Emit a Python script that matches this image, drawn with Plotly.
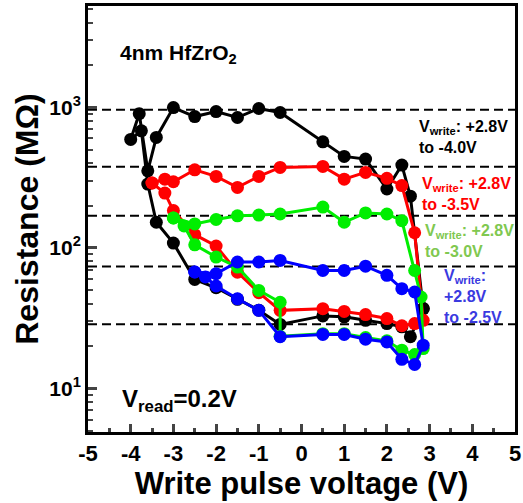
import plotly.graph_objects as go

# ---------------- data ----------------
black_v = [2.85, 2.55, 2.35, 2.0, 1.5, 1.0, 0.5, -0.5, -1.0, -1.5, -2.0, -2.5, -3.0, -3.4, -3.6, -3.75, -4.0,
           -3.8, -3.6, -3.4, -3.0, -2.5, -2.0, -1.5, -1.0, -0.5, 0.5, 1.0, 1.5, 2.0, 2.35, 2.55, 2.85]
black_r = [37, 23.3, 27.4, 28.9, 30.5, 32.3, 32.8, 28.5, 36, 43, 52, 59.6, 108, 152, 284, 680, 590,
           900, 353, 610, 995, 858, 931, 845, 979, 917, 567, 447, 428, 262, 388, 233, 37]

red_v = [-3.5, -3.2, -3.0, -2.5, -2.0, -1.5, -1.0, -0.5, 0.5, 1.0, 1.5, 2.0, 2.35, 2.65, 2.85,
         2.65, 2.35, 2.0, 1.5, 1.0, 0.5, -0.5, -1.0, -1.5, -2.0, -2.5, -3.0, -3.2, -3.5]
red_r = [289, 308, 295, 359, 322, 269, 322, 373, 379, 308, 344, 312, 277, 128, 30.5,
         28.9, 27.9, 31.4, 33.5, 35.3, 36.9, 35.9, 48, 67, 103, 124, 184, 245, 289]

green_v = [-3.0, -2.5, -2.0, -1.5, -1.0, -0.5, 0.5, 1.0, 1.5, 2.0, 2.35, 2.65, 2.8, 2.85,
           2.65, 2.35, 2.0, 1.5, 1.0, 0.5, -0.5, -0.5, -1.0, -1.5, -2.0, -2.5, -2.75, -3.0]
green_r = [163, 148, 159, 169, 171, 174, 195, 152, 177, 174, 156, 69, 44.7, 19.2,
           17.4, 18.7, 21.8, 23, 24.5, 24.5, 23.5, 41, 49.8, 73, 86, 105, 143, 163]

blue_v = [-2.5, -2.0, -1.5, -1.0, -0.5, 0.5, 1.0, 1.5, 2.0, 2.35, 2.65, 2.85,
          2.65, 2.35, 2.0, 1.5, 1.0, 0.5, -0.5, -1.0, -1.5, -2.0, -2.25, -2.5]
blue_r = [67.3, 65.5, 79.3, 79.3, 81.3, 69, 69, 74, 63.7, 51.2, 48.5, 20.3,
          14.8, 16.1, 21.4, 22.4, 24.2, 24.2, 23.3, 35.9, 43.4, 53.5, 62, 67.3]

ref_levels = [960, 378, 169, 73.6, 28.6]

x_ticks = [-5, -4, -3, -2, -1, 0, 1, 2, 3, 4, 5]
x_ticktext = ["<b>%d</b>" % v for v in x_ticks]
y_ticks = [10, 100, 1000]
y_ticktext = ["<b>10<sup>1</sup></b>", "<b>10<sup>2</sup></b>", "<b>10<sup>3</sup></b>"]

FONT = "Liberation Sans, Arial, sans-serif"

fig = go.Figure()
series = [
    (black_v, black_r, "black"),
    (red_v, red_r, "#ff0000"),
    (green_v, green_r, "#00ee00"),
    (blue_v, blue_r, "#0000ff"),
]
for xs, ys, col in series:
    fig.add_trace(go.Scatter(x=xs, y=ys, mode="lines+markers",
                             line=dict(color=col, width=3),
                             marker=dict(color=col, size=13),
                             showlegend=False))

for lv in ref_levels:
    fig.add_shape(type="line", xref="paper", x0=0, x1=1, yref="y", y0=lv, y1=lv,
                  line=dict(color="black", width=2, dash="9px,5px"), layer="below")

minor_vals = [m * 10 ** d for d in range(0, 4) for m in range(2, 10)]

fig.update_layout(
    width=523, height=503,
    margin=dict(l=88, r=8, t=6, b=71, autoexpand=False),
    plot_bgcolor="white", paper_bgcolor="white",
    font=dict(family=FONT, color="black", size=20),
    xaxis=dict(range=[-5, 5], tickvals=x_ticks, ticktext=x_ticktext, ticks="inside", ticklen=8, tickwidth=2.5,
               showline=True, linewidth=3, linecolor="black", mirror=True, showgrid=False,
               zeroline=False, automargin=False,
               tickfont=dict(size=22, family=FONT, weight="bold"),
               minor=dict(dtick=0.5, ticks="inside", ticklen=4, tickwidth=2.5, showgrid=False),
               title=dict(text="<b>Write pulse voltage (V)</b>",
                          font=dict(size=31, family=FONT, weight="bold"), standoff=4)),
    yaxis=dict(type="log", range=[0.69, 3.72], tickvals=y_ticks, ticktext=y_ticktext,
               ticks="inside", ticklen=9, tickwidth=2.5,
               showline=True, linewidth=3, linecolor="black", mirror=True, showgrid=False,
               zeroline=False, automargin=False,
               tickfont=dict(size=21, family=FONT, weight="bold"),
               minor=dict(tickvals=minor_vals, ticks="inside", ticklen=5, tickwidth=2, showgrid=False),
               title=dict(text="<b>Resistance (MΩ)</b>",
                          font=dict(size=32, family=FONT, weight="bold"), standoff=2)),
)

ann = [
    ("<b>4nm HfZrO<sub>2</sub></b>", -4.30, 3.376, "black", 21),
    ("<b>V<sub>write</sub>: +2.8V<br>to -4.0V</b>", 2.70, 2.79, "black", 16),
    ("<b>V<sub>write</sub>: +2.8V<br>to -3.5V</b>", 2.78, 2.383, "#ff0000", 16),
    ("<b>V<sub>write</sub>: +2.8V<br>to -3.0V</b>", 2.85, 2.05, "#80c850", 16),
    ("<b>V<sub>write</sub>:<br>+2.8V<br>to -2.5V</b>", 3.29, 1.656, "#3a3ae0", 16),
    ("<b>V<sub>read</sub>=0.2V</b>", -4.25, 0.915, "black", 24),
]
for txt, x, y, col, sz in ann:
    fig.add_annotation(text=txt, x=x, y=y, xref="x", yref="y", xanchor="left", yanchor="middle",
                       showarrow=False, align="left",
                       font=dict(color=col, size=sz, family=FONT, weight="bold"))

fig.write_html("out.html",
               config={"displayModeBar": False},
               post_script="document.body.style.margin='0';document.body.style.padding='0';"
                           "document.body.style.overflow='hidden';")
